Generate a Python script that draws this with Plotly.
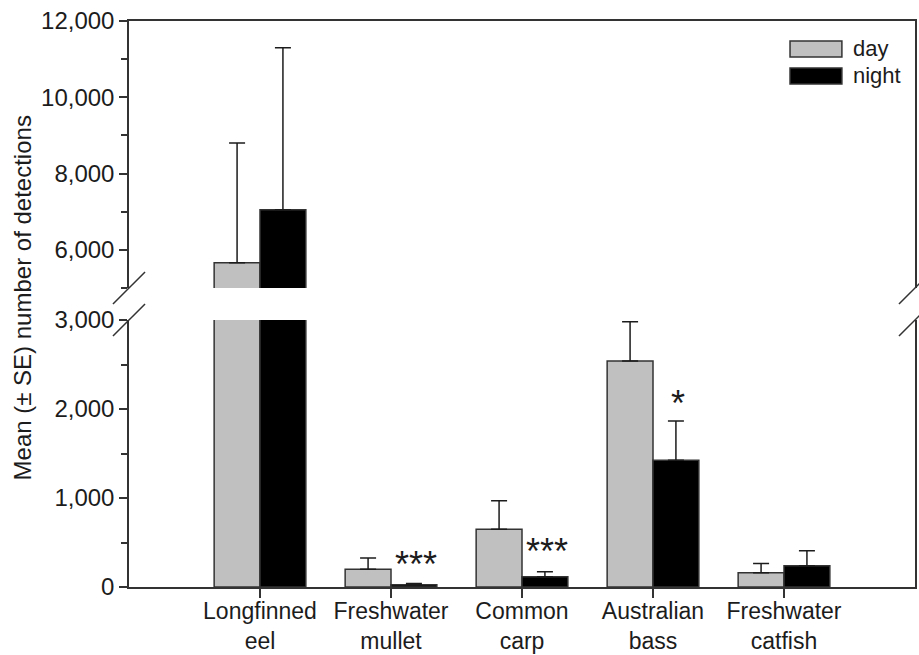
import plotly.graph_objects as go
from plotly.subplots import make_subplots

# Mean detections by species, day vs night, with standard errors
species = ["Longfinned<br>eel", "Freshwater<br>mullet", "Common<br>carp",
           "Australian<br>bass", "Freshwater<br>catfish"]
day_mean = [5660, 200, 650, 2540, 160]
day_se = [3140, 125, 320, 440, 105]
night_mean = [7050, 25, 115, 1425, 240]
night_se = [4250, 15, 57, 440, 168]

# significance markers: (species index, label, height of label in data units)
sig_labels = [(1, "***", 250), (2, "***", 395), (3, "*", 2060)]

xpos = list(range(len(species)))

FONT = "Liberation Sans, Arial, sans-serif"
INK = "#1c1c1c"
LINE = "#333333"
DAY_COLOR = "#c0c0c0"
NIGHT_COLOR = "#000000"

fig = make_subplots(rows=2, cols=1, shared_xaxes=True)

for row in (1, 2):
    fig.add_trace(go.Bar(
        x=xpos, y=day_mean, name="day", offsetgroup="day",
        marker=dict(color=DAY_COLOR, line=dict(color=LINE, width=1.5)),
        error_y=dict(type="data", array=day_se, arrayminus=[0] * len(day_se),
                     symmetric=False, color=INK, thickness=1.5, width=8),
        showlegend=False), row=row, col=1)
    fig.add_trace(go.Bar(
        x=xpos, y=night_mean, name="night", offsetgroup="night",
        marker=dict(color=NIGHT_COLOR, line=dict(color=LINE, width=1.5)),
        error_y=dict(type="data", array=night_se, arrayminus=[0] * len(night_se),
                     symmetric=False, color=INK, thickness=1.5, width=8),
        showlegend=False), row=row, col=1)

upper_bottom = 0.5283
lower_top = 0.4717

axis_common = dict(showline=True, linecolor=LINE, linewidth=1.5, showgrid=False,
                   zeroline=False, color=INK, automargin=False)

fig.update_layout(
    width=919, height=655,
    margin=dict(l=129, r=4, t=21, b=68),
    paper_bgcolor="white", plot_bgcolor="white",
    barmode="group", bargap=0.3, bargroupgap=0,
    font=dict(family=FONT, color=INK),
    xaxis=dict(range=[-1, 5], showline=True, linecolor=LINE, linewidth=1.5,
               side="top", ticks="", showticklabels=False, showgrid=False,
               zeroline=False, mirror=False, automargin=False),
    xaxis2=dict(range=[-1, 5], tickmode="array", tickvals=xpos, ticktext=species,
                ticks="outside", ticklen=9, tickwidth=1.5, tickcolor=LINE,
                ticklabelstandoff=-6,
                tickfont=dict(family=FONT, size=23, color=INK),
                **axis_common),
    yaxis=dict(domain=[upper_bottom, 1], range=[5000, 12000], tickmode="linear",
               tick0=0, dtick=2000, tickformat=",d", ticks="outside", ticklen=8,
               tickwidth=1.5, tickcolor=LINE, mirror=True,
               tickfont=dict(family=FONT, size=24, color=INK),
               minor=dict(dtick=1000, tick0=0, ticks="outside", ticklen=6,
                          tickwidth=1.5, tickcolor=LINE),
               **axis_common),
    yaxis2=dict(domain=[0, lower_top], range=[0, 3000], tickmode="linear",
                tick0=0, dtick=1000, tickformat=",d", ticks="outside", ticklen=8,
                tickwidth=1.5, tickcolor=LINE, mirror=True,
                tickfont=dict(family=FONT, size=24, color=INK),
                minor=dict(dtick=500, tick0=0, ticks="outside", ticklen=6,
                           tickwidth=1.5, tickcolor=LINE),
                **axis_common),
)

# y-axis title spanning both panels
fig.add_annotation(text="Mean (± SE) number of detections", textangle=-90,
                   xref="paper", yref="paper", x=-0.136, y=0.51,
                   xanchor="center", yanchor="middle", showarrow=False,
                   font=dict(family=FONT, size=24, color=INK))

# significance asterisks above the night bars
for idx, label, height in sig_labels:
    fig.add_annotation(text=label, x=idx + 0.19, y=height, xref="x2", yref="y2",
                       showarrow=False, xanchor="center", yanchor="middle",
                       font=dict(family=FONT, size=36, color=INK))

# axis-break slashes on both sides
shapes = []
dx, dy = 0.0204, 0.0283
for xc in (0, 1):
    for yc in (upper_bottom, lower_top):
        shapes.append(dict(type="line", xref="paper", yref="paper",
                           x0=xc - dx, y0=yc - dy, x1=xc + dx, y1=yc + dy,
                           line=dict(color=LINE, width=1.5)))

# legend swatches and labels
legend_items = [("day", DAY_COLOR, 0.9647, 0.9364), ("night", NIGHT_COLOR, 0.917, 0.8887)]
for label, color, ytop, ybot in legend_items:
    shapes.append(dict(type="rect", xref="paper", yref="paper",
                       x0=0.841, x1=0.907, y0=ybot, y1=ytop,
                       fillcolor=color, line=dict(color=LINE, width=1.5)))
    fig.add_annotation(text=label, xref="paper", yref="paper", x=0.918,
                       y=(ytop + ybot) / 2, xanchor="left", yanchor="middle",
                       showarrow=False, font=dict(family=FONT, size=22, color=INK))

fig.update_layout(shapes=shapes)

fig.write_html("out.html")
